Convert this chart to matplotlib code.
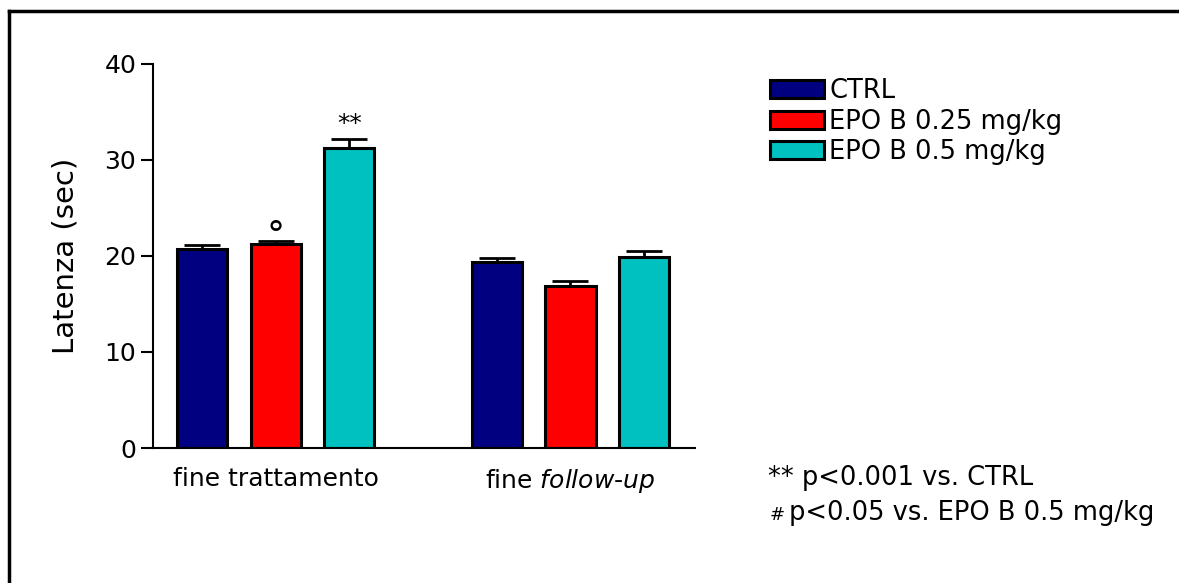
import matplotlib
matplotlib.use("Agg")
import matplotlib.pyplot as plt
from matplotlib.lines import Line2D
import numpy as np

plt.rcParams['font.family'] = ['DejaVu Sans']
plt.rcParams['mathtext.fontset'] = 'dejavusans'

# dati
groups = ["fine trattamento", r"fine $\it{follow}$-$\it{up}$"]
series = ["CTRL", "EPO B 0.25 mg/kg", "EPO B 0.5 mg/kg"]
colors = ["#000080", "#FF0000", "#00C0C0"]
means = [[20.7, 19.4],
         [21.25, 16.9],
         [31.25, 19.9]]
sems = [[0.4, 0.4],
        [0.3, 0.5],
        [0.9, 0.6]]
marks = [["", ""], ["°", ""], ["**", ""]]

fig = plt.figure(figsize=(11.79, 5.83), dpi=100)
ax = fig.add_axes([153 / 1179, 1 - 448 / 583, (695 - 153) / 1179, (448 - 64) / 583])

width = 0.68
group_pos = np.array([0, 4])
for i, (name, col) in enumerate(zip(series, colors)):
    x = group_pos + i
    ax.bar(x, means[i], width, color=col, edgecolor="black", linewidth=2.2,
           label=name, zorder=2)
    ax.errorbar(x, means[i], yerr=[np.zeros(2), sems[i]], fmt="none",
                ecolor="black", elinewidth=2, capsize=13, capthick=2, zorder=3)
    for j, m in enumerate(marks[i]):
        if m == "**":
            ax.text(x[j], means[i][j] + sems[i][j] + 0.4, m, ha="center",
                    va="bottom", fontsize=18)
        elif m:
            ax.text(x[j], means[i][j] + sems[i][j] - 1.2, m, ha="center",
                    va="bottom", fontsize=26)

ax.set_xlim(-0.665, 6.69)
ax.set_ylim(0, 40)
ax.set_yticks([0, 10, 20, 30, 40])
ax.set_xticks(group_pos + 1)
ax.set_xticklabels(groups, fontsize=18)
ax.tick_params(axis="x", length=0, pad=14)
ax.tick_params(axis="y", labelsize=18, length=9, width=1.5, pad=3)
ax.set_ylabel("Latenza (sec)", fontsize=21, labelpad=18)
for s in ["top", "right"]:
    ax.spines[s].set_visible(False)
for s in ["left", "bottom"]:
    ax.spines[s].set_linewidth(1.5)

fig.legend(loc="upper left", bbox_to_anchor=(770 / 1179, 1 - 78 / 583),
           frameon=False, fontsize=18.5, handlelength=2.1, handleheight=0.7,
           labelspacing=0.18, handletextpad=0.2, borderaxespad=0, borderpad=0)

fig.text(768 / 1179, 1 - 478 / 583, "** p<0.001 vs. CTRL", fontsize=18.5,
         ha="left", va="center")
fig.text(770 / 1179, 1 - 515 / 583, "#", fontsize=13, ha="left", va="center")
fig.text(789 / 1179, 1 - 513 / 583, "p<0.05 vs. EPO B 0.5 mg/kg", fontsize=18.5,
         ha="left", va="center")

# cornice (solo lati superiore e sinistro visibili)
fig.add_artist(Line2D([9 / 1179, 1], [1 - 11 / 583, 1 - 11 / 583],
                      color="black", linewidth=2.5, transform=fig.transFigure))
fig.add_artist(Line2D([9 / 1179, 9 / 1179], [0, 1 - 11 / 583],
                      color="black", linewidth=2.5, transform=fig.transFigure))

fig.savefig("out.png", dpi=100)
